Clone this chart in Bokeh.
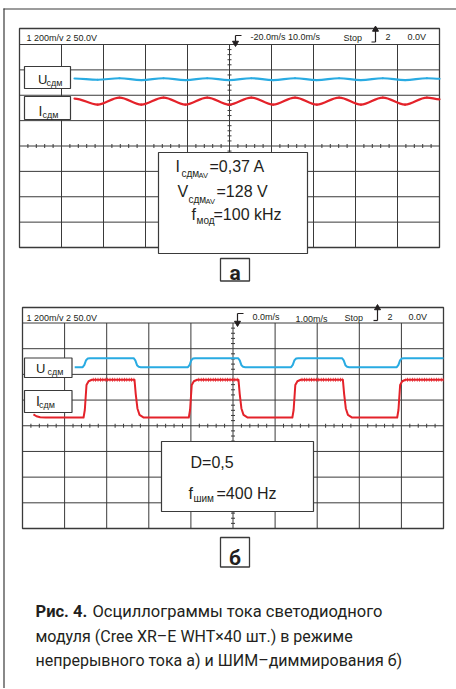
from bokeh.plotting import figure
from bokeh.models import Range1d
from bokeh.core.properties import value
from bokeh.embed import file_html
from bokeh.resources import INLINE

# ---------------- data (all trace values in oscilloscope divisions) ----------------
DIV_X = [0, 1, 2, 3, 4, 5, 6, 7, 8, 9, 10]
DIV_Y = [-4, -3, -2, -1, 0, 1, 2, 3, 4]
MINOR = [0.2, 0.4, 0.6, 0.8]

HEADER_A = ["1 200m/v  2 50.0V", "-20.0m/s  10.0m/s", "Stop", "2", "0.0V"]
HEADER_B = ["1 200m/v  2 50.0V", "0.0m/s", "1.00m/s", "Stop", "2", "0.0V"]

# scope a (continuous current, 100 kHz ripple): extrema of the two traces
A_X = [1.31, 1.86, 2.38, 2.90, 3.43, 3.95, 4.47, 4.99, 5.52, 6.04, 6.56, 7.08,
       7.61, 8.13, 8.65, 9.18, 9.70, 10.0]
A_RED = [1.87, 1.63, 1.91, 1.63, 1.91, 1.63, 1.91, 1.63, 1.91, 1.63, 1.91, 1.63,
         1.91, 1.63, 1.91, 1.63, 1.91, 1.84]
A_BLUE = [2.66, 2.61, 2.67, 2.60, 2.67, 2.60, 2.67, 2.60, 2.67, 2.60, 2.67, 2.60,
          2.67, 2.60, 2.67, 2.60, 2.67, 2.65]

# scope b (PWM dimming 400 Hz, D = 0.5)
B_BLUE_LEVELS = [2.28, 2.63]
B_RED_LEVELS = [0.32, 1.79]
B_BLUE_START = 1.24
B_BLUE_RISE = [1.43, 3.93, 6.38, 8.89]
B_BLUE_FALL = [2.64, 5.12, 7.59]
B_RED_RISE = [1.45, 3.95, 6.41, 8.90]
B_RED_FALL = [2.66, 5.13, 7.61]
B_RED_LEAD_X = [0.26, 0.33, 0.42, 0.55]
B_RED_LEAD_Y = [0.44, 0.37, 0.33, 0.32]
B_RED_RIPPLE = 0.08

# edge profiles: (time after edge in div, fraction of swing)
BLUE_RISE_SHAPE = [(0.0, 0.0), (0.04, 0.25), (0.08, 0.78), (0.12, 0.96), (0.17, 1.0)]
BLUE_FALL_SHAPE = [(0.0, 1.0), (0.04, 0.75), (0.08, 0.22), (0.12, 0.04), (0.17, 0.0)]
RED_RISE_SHAPE = [(0.0, 0.0), (0.03, 0.2), (0.07, 0.86), (0.12, 0.96), (0.2, 1.0)]
RED_FALL_SHAPE = [(0.0, 1.0), (0.03, 0.62), (0.07, 0.24), (0.12, 0.07), (0.22, 0.0)]

CAPTION_BOLD = "Рис. 4."
CAPTION = ["Осциллограммы тока светодиодного",
           "модуля (Cree XR–E WHT×40 шт.) в режиме",
           "непрерывного тока а) и ШИМ–диммирования б)"]

# ---------------- style ----------------
TEXT = "#231f20"
GRID = "#3a3a3a"
BLUE = "#29abe2"
RED = "#e4222a"
SCOPE_FONT = "Liberation Sans"
CAP_FONT = "Roboto"
DESCENT = 0.22

PX0, PX1, PY0, PY1 = 0, 456, 0, 688
W, H = PX1 - PX0, PY1 - PY0

p = figure(width=W, height=H, x_range=Range1d(PX0, PX1), y_range=Range1d(PY1, PY0),
           x_axis_type=None, y_axis_type=None, output_backend="svg",
           toolbar_location=None, min_border=0)
p.grid.visible = False
p.outline_line_color = None
p.background_fill_color = "white"
p.border_fill_color = "white"


def txt(x, y, s, size, font=SCOPE_FONT, style="normal", align="left", color=TEXT):
    p.text(x=[x], y=[y - DESCENT * size], text=[s], text_font=value(font),
           text_font_size=f"{size}px", text_font_style=style, text_align=align,
           text_baseline="alphabetic", text_color=color)


def box(l, r, t, b, lw=1.2):
    p.quad(left=[l], right=[r], top=[t], bottom=[b], fill_color="white",
           line_color=GRID, line_width=lw)


# outer page frame
p.segment(x0=[3], y0=[8.5], x1=[PX1], y1=[8.5], line_color=GRID, line_width=1.2)
p.segment(x0=[3.5], y0=[8], x1=[3.5], y1=[PY1], line_color=GRID, line_width=1.2)

SCOPES = {
    "a": dict(left=19, right=439, hdr=28, top=44, bottom=247),
    "b": dict(left=22, right=443, hdr=307, top=322.5, bottom=528),
}


def scope(name):
    g = SCOPES[name]
    ppx = (g["right"] - g["left"]) / 10
    ppy = (g["bottom"] - g["top"]) / 8
    cy = (g["top"] + g["bottom"]) / 2
    p.extra_x_ranges[name] = Range1d((PX0 - g["left"]) / ppx, (PX1 - g["left"]) / ppx)
    p.extra_y_ranges[name] = Range1d((cy - PY1) / ppy, (cy - PY0) / ppy)
    kw = dict(x_range_name=name, y_range_name=name)
    hdr_top = (cy - g["hdr"]) / ppy
    p.quad(left=[0], right=[10], bottom=[-4], top=[hdr_top], fill_color="white",
           line_color=GRID, line_width=1.3, **kw)
    vx = DIV_X[1:-1]
    p.segment(x0=vx, y0=[-4] * len(vx), x1=vx, y1=[4] * len(vx), line_color=GRID, line_width=1, **kw)
    hy = DIV_Y[1:]
    p.segment(x0=[0] * len(hy), y0=hy, x1=[10] * len(hy), y1=hy, line_color=GRID, line_width=1, **kw)
    tx = [i + m for i in DIV_X[:-1] for m in MINOR]
    ty = 2.0 / ppy
    p.segment(x0=tx, y0=[-ty] * len(tx), x1=tx, y1=[ty] * len(tx), line_color=GRID, line_width=1, **kw)
    tyy = [j + m for j in DIV_Y[:-1] for m in MINOR]
    txx = 2.0 / ppx
    p.segment(x0=[5 - txx] * len(tyy), y0=tyy, x1=[5 + txx] * len(tyy), y1=tyy,
              line_color=GRID, line_width=1, **kw)
    return kw


def smooth(xs, ys, color, kw):
    x0, y0, x1, y1 = xs[:-1], ys[:-1], xs[1:], ys[1:]
    cx0 = [a + (b - a) * 0.37 for a, b in zip(x0, x1)]
    cx1 = [b - (b - a) * 0.37 for a, b in zip(x0, x1)]
    p.bezier(x0=x0, y0=y0, x1=x1, y1=y1, cx0=cx0, cy0=y0, cx1=cx1, cy1=y1,
             line_color=color, line_width=2.2, line_cap="round", **kw)


def square(start_x, start_y, rises, falls, levels, rshape, fshape):
    lo, hi = levels
    xs, ys = list(start_x), list(start_y)
    edges = sorted([(t, rshape) for t in rises] + [(t, fshape) for t in falls])
    for t, shape in edges:
        for dx, fr in shape:
            xs.append(t + dx)
            ys.append(lo + fr * (hi - lo))
    xs.append(10.0)
    ys.append(ys[-1])
    return xs, ys


# ---------------- scope a ----------------
kwa = scope("a")
smooth(A_X, A_BLUE, BLUE, kwa)
smooth(A_X, A_RED, RED, kwa)

# ---------------- scope b ----------------
kwb = scope("b")
bx, by = square([B_BLUE_START], [B_BLUE_LEVELS[0]], B_BLUE_RISE, B_BLUE_FALL,
                B_BLUE_LEVELS, BLUE_RISE_SHAPE, BLUE_FALL_SHAPE)
p.line(bx, by, line_color=BLUE, line_width=2, line_join="round", **kwb)
rx, ry = square(B_RED_LEAD_X, B_RED_LEAD_Y, B_RED_RISE, B_RED_FALL,
                B_RED_LEVELS, RED_RISE_SHAPE, RED_FALL_SHAPE)
p.line(rx, ry, line_color=RED, line_width=2, line_join="round", **kwb)
hl = [r + 0.2 for r in B_RED_RISE]
hr = B_RED_FALL + [10.0]
p.quad(left=hl, right=hr, bottom=[B_RED_LEVELS[1] - B_RED_RIPPLE] * len(hl),
       top=[B_RED_LEVELS[1] + B_RED_RIPPLE] * len(hl), fill_alpha=0, line_alpha=0,
       hatch_pattern="|", hatch_color=RED, hatch_scale=2.4, hatch_weight=1, **kwb)

# ---------------- scope headers ----------------
for (x, y), s in zip([(26, 39.5), (250, 38), (343, 39), (385, 38), (407, 38)], HEADER_A):
    txt(x, y, s, 9)
for (x, y), s in zip([(26, 319), (252, 318.3), (295, 320), (344, 319), (387, 318), (408, 318.3)], HEADER_B):
    txt(x, y, s, 9)

# trigger position markers and edge symbols
for (x, y0, y1) in [(235, 35, 41), (237, 313, 321)]:
    p.segment(x0=[x, x], y0=[y0, y0], x1=[x + 6, x], y1=[y0, y1], line_color=TEXT, line_width=1.2)
    p.scatter(x=[x], y=[y1 + 1.5], marker="inverted_triangle", size=6, color=TEXT)
for (x, y0, y1) in [(375, 41.5, 30), (377, 320, 308.5)]:
    p.segment(x0=[x - 4, x], y0=[y0, y0], x1=[x, x], y1=[y0, y1], line_color=TEXT, line_width=1.2)
    p.scatter(x=[x], y=[y1 - 1], marker="triangle", size=6, color=TEXT)

# channel labels
box(24, 70, 66, 88)
box(24, 70, 96, 119)
txt(37.5, 82, "U", 13)
txt(46, 84.5, "сдм", 9)
txt(38, 113.5, "I", 14)
txt(42, 116, "сдм", 9)
box(24, 71.5, 357.5, 377)
box(24, 71.5, 390, 412)
txt(35.5, 370.5, "U", 13)
txt(47, 373.5, "сдм", 9)
txt(35.5, 403.5, "I", 14)
txt(38.5, 406, "сдм", 9)

# measurement boxes
box(158, 307, 152, 253)
txt(175, 169.3, "I", 16)
txt(181, 175, "сдм", 10)
txt(198, 177, "AV", 7.5)
txt(209, 169.3, "=0,37 A", 16)
txt(177, 195, "V", 16)
txt(188, 201, "сдм", 10)
txt(205, 203, "AV", 7.5)
txt(216, 195, "=128 V", 16)
txt(191, 217.3, "f", 16)
txt(196, 222, "мод", 10)
txt(213, 217.3, "=100 kHz", 16)

box(161, 313, 441, 511)
txt(190, 466, "D=0,5", 16)
txt(188, 496.7, "f", 16)
txt(193, 500.5, "шим", 10)
txt(216, 496.7, "=400 Hz", 16)

# panel letters
box(220, 249, 258, 280.5, lw=1.3)
txt(234.5, 276.7, "а", 21, CAP_FONT, "bold", "center")
box(220, 249, 537, 566.5, lw=1.3)
txt(234.5, 562, "б", 21, CAP_FONT, "bold", "center")

# caption
txt(35, 615, CAPTION_BOLD, 16.5, CAP_FONT, "bold")
txt(92, 615, CAPTION[0], 16.5, CAP_FONT)
txt(35, 639.5, CAPTION[1], 16, CAP_FONT)
txt(35, 664, CAPTION[2], 16, CAP_FONT)

open("out.html", "w").write(file_html(p, INLINE))
